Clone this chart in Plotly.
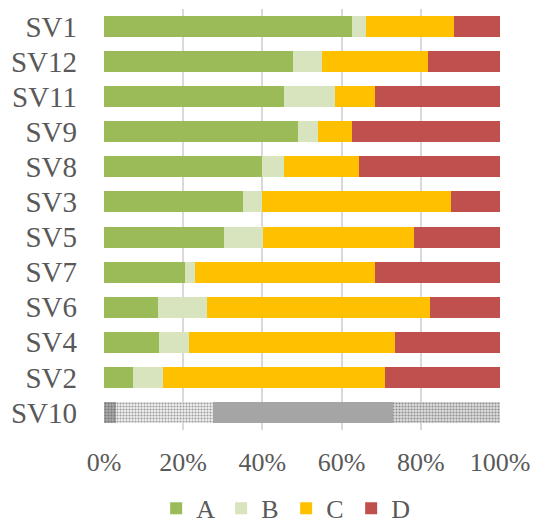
import plotly.graph_objects as go

# Survey items, top to bottom
categories = ["SV1", "SV12", "SV11", "SV9", "SV8", "SV3", "SV5", "SV7", "SV6", "SV4", "SV2", "SV10"]

# Share of responses per item (%)
a_vals = [62.5, 47.7, 45.5, 49.0, 39.9, 35.1, 30.2, 20.5, 13.7, 14.0, 7.2, 3.0]
b_vals = [3.7, 7.4, 12.8, 5.1, 5.5, 4.8, 10.0, 2.6, 12.2, 7.5, 7.8, 24.6]
c_vals = [22.3, 26.6, 10.1, 8.4, 19.1, 47.6, 38.2, 45.3, 56.3, 52.1, 56.0, 45.3]
d_vals = [11.5, 18.3, 31.6, 37.5, 35.5, 12.5, 21.6, 31.6, 17.8, 26.4, 29.0, 27.1]

series_names = ["A", "B", "C", "D"]
x_ticks = [0, 20, 40, 60, 80, 100]
x_tick_text = ["0%", "20%", "40%", "60%", "80%", "100%"]

# Series colours; the last item (SV10) is drawn in textured greys
base_colors = ["#9BBB59", "#D7E4BD", "#FFC000", "#C0504D"]
muted_bg = ["#AAAAAA", "#F0F0F0", "#A5A5A5", "#DCDCDC"]
muted_fg = ["#9C9C9C", "#D6D6D6", "#A5A5A5", "#CACACA"]
muted_shape = [".", ".", "", "."]

font_family = "Liberation Serif, Times New Roman, serif"
text_color = "#595959"

fig = go.Figure()
for i, (name, vals) in enumerate(zip(series_names, [a_vals, b_vals, c_vals, d_vals])):
    n = len(categories)
    colors = [base_colors[i]] * (n - 1) + [muted_bg[i]]
    shapes = [""] * (n - 1) + [muted_shape[i]]
    fgs = [base_colors[i]] * (n - 1) + [muted_fg[i]]
    fig.add_trace(go.Bar(
        name=name,
        y=categories,
        x=vals,
        orientation="h",
        marker=dict(
            color=colors,
            line=dict(width=0),
            pattern=dict(shape=shapes, fgcolor=fgs,
                         size=3, solidity=0.4, fillmode="overlay"),
        ),
        hovertemplate="%{y}: %{x:.1f}%<extra>" + name + "</extra>",
    ))

fig.update_layout(
    barmode="stack",
    bargap=0.4,
    width=534,
    height=524,
    margin=dict(l=104, r=34, t=9, b=94, autoexpand=False),
    paper_bgcolor="white",
    plot_bgcolor="white",
    font=dict(family=font_family, color=text_color, size=26),
    showlegend=True,
    legend=dict(
        orientation="h",
        xref="paper", x=0.46, xanchor="center",
        yref="container", y=0.03, yanchor="middle",
        font=dict(size=26, color=text_color),
        entrywidth=20,
        entrywidthmode="pixels",
        traceorder="normal",
    ),
)

fig.update_xaxes(
    range=[0, 100],
    tickvals=x_ticks,
    ticktext=x_tick_text,
    showgrid=True,
    gridcolor="#D9D9D9",
    gridwidth=1.5,
    zeroline=False,
    showline=False,
    ticks="",
    ticklabelstandoff=14,
    tickfont=dict(size=26, color=text_color),
    automargin=False,
    fixedrange=True,
)
fig.update_yaxes(
    categoryorder="array",
    categoryarray=categories,
    autorange="reversed",
    showgrid=False,
    showline=False,
    ticks="",
    ticklabelstandoff=26,
    tickfont=dict(size=29, color=text_color),
    automargin=False,
    fixedrange=True,
)

fig.write_html("out.html")
